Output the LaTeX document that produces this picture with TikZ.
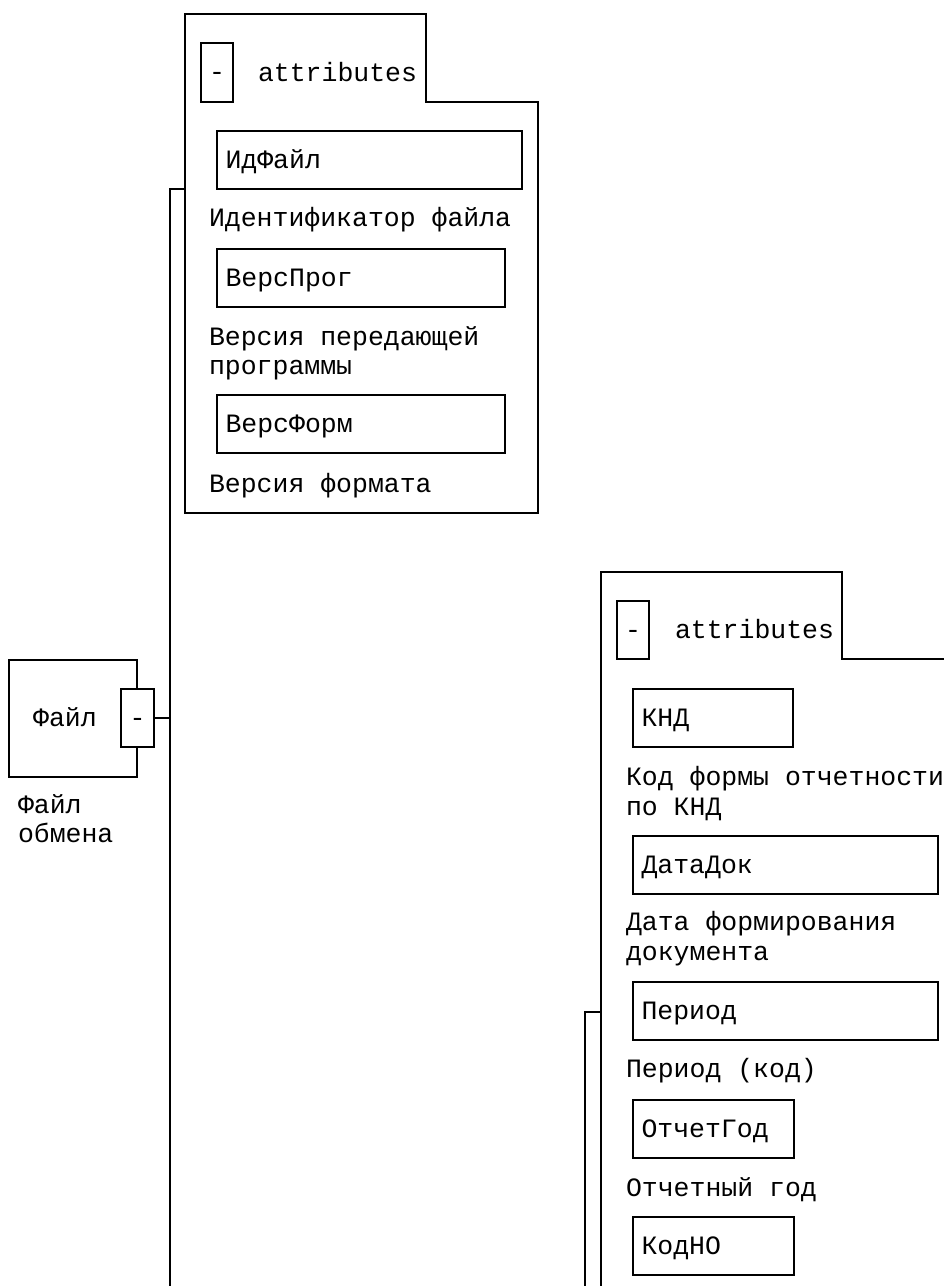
\documentclass[tikz,border=0pt]{standalone}
\usepackage{fontspec}
\setmainfont{Liberation Mono}
\begin{document}
\begin{tikzpicture}[x=1pt,y=-1pt, line width=1.5pt,
  every node/.style={inner sep=0pt, outer sep=0pt, font=\fontsize{26.5}{29}\selectfont},
  lbl/.style={anchor=base west},
  fld/.style={draw, rectangle, anchor=north west, minimum height=58pt, inner xsep=8.5pt, align=left, text height=16pt, text depth=0pt},
  minusbox/.style={draw, fill=white, rectangle, anchor=north west, text height=16pt, text depth=0pt},
]
\useasboundingbox (0,0) rectangle (944,1286);
\clip (0,0) rectangle (944,1286);

% ---------- top attributes panel ----------
\coordinate (p1tl) at (185,14);
\coordinate (p1tab) at (426,14);
\coordinate (p1tabb) at (426,102);
\coordinate (p1r) at (538,102);
\coordinate (p1br) at (538,513);
\coordinate (p1bl) at (185,513);
\draw (p1tl) -- (p1tab) -- (p1tabb) -- (p1r) -- (p1br) -- (p1bl) -- cycle;
\node[minusbox, minimum width=32pt, minimum height=59pt] (m1) at (201,43) {-};
\node[lbl] (a1) at (258,81) {attributes};

\node[fld, text width=288pt] (idfile) at (217,131) {ИдФайл};
\node[lbl] (d1) at (209,226) {Идентификатор файла};
\node[fld, text width=271pt] (versprog) at (217,249) {ВерсПрог};
\node[lbl] (d2a) at (209,345) {Версия передающей};
\node[lbl] (d2b) at (209,374) {программы};
\node[fld, text width=271pt] (versform) at (217,395) {ВерсФорм};
\node[lbl] (d3) at (209,492) {Версия формата};

% ---------- Файл element ----------
\draw (9,660) rectangle (137,777);
\node (fname) at (65,718) [text height=16pt, text depth=0pt] {Файл};
\node[minusbox, minimum width=33pt, minimum height=58pt] (fminus) at (121,689) {-};
\node[lbl] (fd1) at (18,813) {Файл};
\node[lbl] (fd2) at (18,842) {обмена};

% ---------- trunk connectors ----------
\coordinate (j1) at (170,189);
\coordinate (j1b) at (170,1300);
\draw (j1b) -- (j1) -- (j1 -| p1tl);
\draw (fminus.east) -- (fminus.east -| j1);

% ---------- right attributes panel ----------
\coordinate (p2tl) at (601,572);
\coordinate (p2tab) at (842,572);
\coordinate (p2tabb) at (842,659);
\coordinate (p2r) at (956,659);
\coordinate (p2br) at (956,1300);
\coordinate (p2bl) at (601,1300);
\draw (p2bl) -- (p2tl) -- (p2tab) -- (p2tabb) -- (p2r) -- (p2br);
\node[minusbox, minimum width=32pt, minimum height=58pt] (m2) at (617,601) {-};
\node[lbl] (a2) at (675,638) {attributes};

\node[fld, text width=143pt] (knd) at (633,689) {КНД};
\node[lbl] (e1a) at (626,785) {Код формы отчетности};
\node[lbl] (e1b) at (626,815) {по КНД};
\node[fld, text width=288pt] (datadok) at (633,836) {ДатаДок};
\node[lbl] (e2a) at (626,930) {Дата формирования};
\node[lbl] (e2b) at (626,960) {документа};
\node[fld, text width=288pt] (period) at (633,982) {Период};
\node[lbl] (e3) at (626,1077) {Период (код)};
\node[fld, text width=144pt] (otchgod) at (633,1100) {ОтчетГод};
\node[lbl] (e4) at (626,1196) {Отчетный год};
\node[fld, text width=144pt] (kodno) at (633,1217) {КодНО};

\coordinate (j2) at (585,1012);
\coordinate (j2b) at (585,1300);
\draw (j2b) -- (j2) -- (j2 -| p2tl);
\end{tikzpicture}
\end{document}
